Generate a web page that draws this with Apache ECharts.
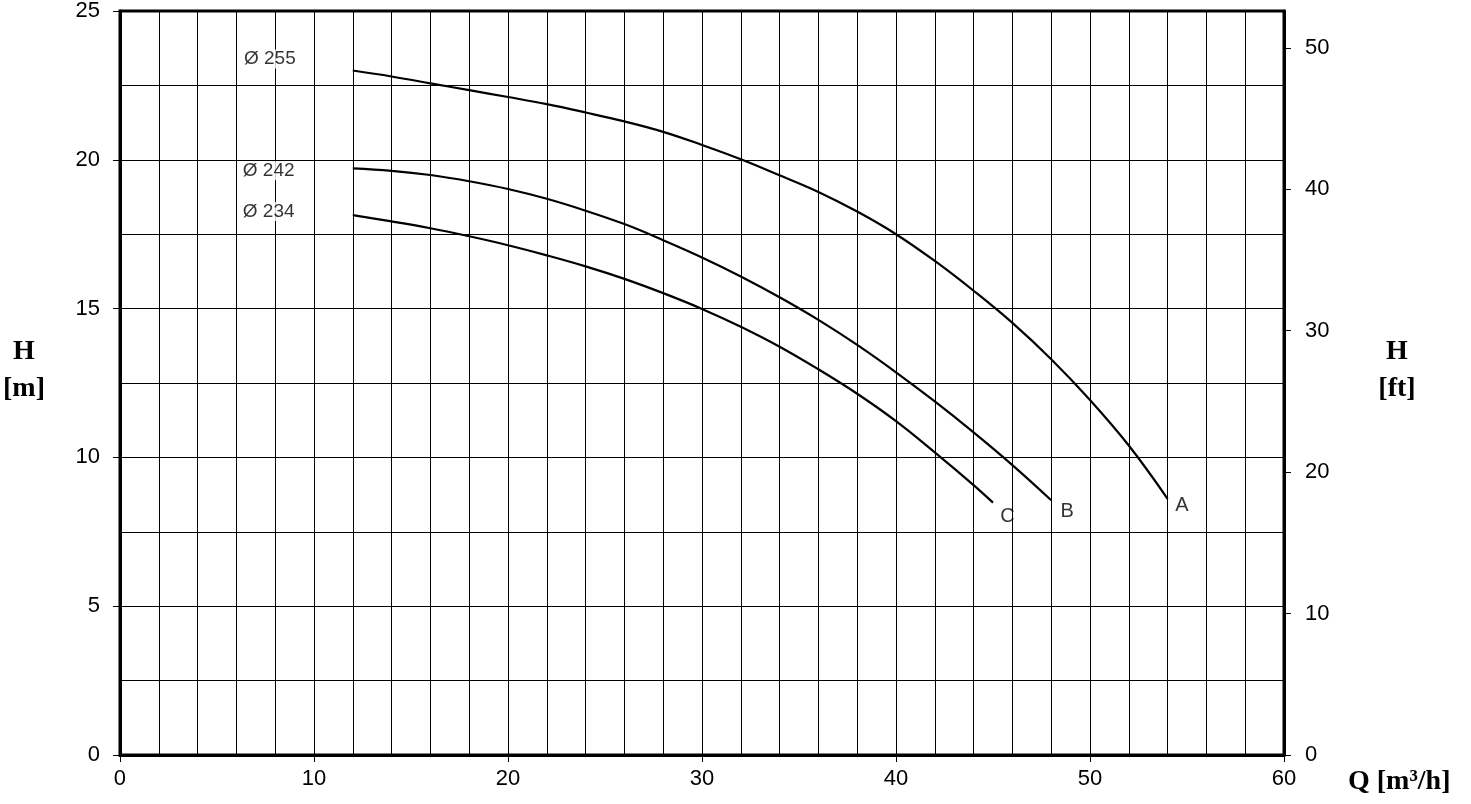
<!DOCTYPE html>
<html>
<head>
<meta charset="utf-8">
<script src="https://cdn.jsdelivr.net/npm/echarts@6/dist/echarts.min.js"></script>
<style>
  html, body { margin: 0; padding: 0; background: #fff; }
  #chart { width: 1471px; height: 804px; }
</style>
</head>
<body>
<div id="chart"></div>
<script>
// flow Q [m3/h]
var flowQ = [12, 14, 16, 18, 20, 22, 24, 26, 28, 30, 32, 34, 36, 38, 40, 42, 44, 46, 48, 50, 52, 54];
// head H [m]
var headA = [23.0, 22.8, 22.57, 22.34, 22.11, 21.87, 21.59, 21.29, 20.94, 20.5, 20.02, 19.48, 18.92, 18.26, 17.5, 16.6, 15.6, 14.52, 13.3, 11.93, 10.4, 8.61];
var headB = [19.71, 19.63, 19.49, 19.28, 19.02, 18.69, 18.29, 17.84, 17.3, 16.72, 16.08, 15.38, 14.62, 13.78, 12.86, 11.88, 10.84, 9.74, 8.56];
var flowC = [12, 14, 16, 18, 20, 22, 24, 26, 28, 30, 32, 34, 36, 38, 40, 42, 44, 45];
var headC = [18.14, 17.93, 17.7, 17.43, 17.13, 16.79, 16.42, 16.0, 15.52, 14.99, 14.39, 13.72, 12.96, 12.14, 11.22, 10.17, 9.07, 8.48];

// impeller diameter labels and curve end labels
var diaLabels = [[6.39, 23.39, 'Ø 255'], [6.33, 19.63, 'Ø 242'], [6.33, 18.26, 'Ø 234']];
var endLabels = [[54.39, 8.39, 'A'], [48.48, 8.19, 'B'], [45.38, 8.03, 'C']];

function pairs(xs, ys) {
  var out = [];
  for (var i = 0; i < ys.length; i++) out.push([xs[i], ys[i]]);
  return out;
}

var myChart = echarts.init(document.getElementById('chart'));

var tickFont = { color: '#000', fontSize: 22, fontFamily: 'Liberation Sans' };
var nameFont = { color: '#000', fontSize: 28, fontWeight: 'bold', fontFamily: 'Liberation Serif', lineHeight: 37 };
// extra empty line under the unit lifts the two-line name a little
var nameRich = { gap: { fontSize: 10, lineHeight: 25 } };

var curveStyle = { color: '#000', width: 2.2 };

var option = {
  animation: false,
  grid: {
    left: 119,
    right: 187,
    top: 10,
    bottom: 49,
    show: true,
    borderColor: '#000',
    borderWidth: 3
  },
  xAxis: {
    type: 'value',
    min: 0,
    max: 60,
    interval: 10,
    name: 'Q [m³/h]',
    nameLocation: 'end',
    nameGap: 64,
    nameTextStyle: Object.assign({}, nameFont, { align: 'left', verticalAlign: 'top', padding: [8, 0, 0, 0] }),
    axisLine: { lineStyle: { color: '#000', width: 3 } },
    axisTick: { show: true, length: 7, lineStyle: { color: '#000', width: 1 } },
    axisLabel: Object.assign({}, tickFont, { margin: 13 }),
    splitLine: { show: true, lineStyle: { color: '#000', width: 1 } },
    minorTick: { show: false, splitNumber: 5 },
    minorSplitLine: { show: true, lineStyle: { color: '#000', width: 1 } }
  },
  yAxis: [
    {
      type: 'value',
      min: 0,
      max: 25,
      interval: 5,
      name: 'H\n[m]\n{gap| }',
      nameLocation: 'middle',
      nameRotate: 0,
      nameGap: 96,
      nameTextStyle: Object.assign({}, nameFont, { align: 'center', verticalAlign: 'middle', rich: nameRich }),
      axisLine: { show: true, lineStyle: { color: '#000', width: 3 } },
      axisTick: { show: true, length: 7, lineStyle: { color: '#000', width: 1 } },
      axisLabel: Object.assign({}, tickFont, { margin: 20 }),
      splitLine: { show: true, lineStyle: { color: '#000', width: 1 } },
      minorTick: { show: false, splitNumber: 2 },
      minorSplitLine: { show: true, lineStyle: { color: '#000', width: 1 } }
    },
    {
      type: 'value',
      position: 'right',
      min: 0,
      max: 52.6,
      interval: 10,
      name: 'H\n[ft]\n{gap| }',
      nameLocation: 'middle',
      nameRotate: 0,
      nameGap: 113,
      nameTextStyle: Object.assign({}, nameFont, { align: 'center', verticalAlign: 'middle', rich: nameRich }),
      axisLine: { show: true, lineStyle: { color: '#000', width: 3 } },
      axisTick: { show: true, length: 7, lineStyle: { color: '#000', width: 1 } },
      axisLabel: Object.assign({}, tickFont, { margin: 21, showMaxLabel: false }),
      splitLine: { show: false }
    }
  ],
  series: [
    {
      name: 'A',
      type: 'line',
      smooth: 0.4,
      showSymbol: false,
      lineStyle: curveStyle,
      data: pairs(flowQ, headA),
      z: 5
    },
    {
      name: 'B',
      type: 'line',
      smooth: 0.4,
      showSymbol: false,
      lineStyle: curveStyle,
      data: pairs(flowQ, headB),
      z: 5
    },
    {
      name: 'C',
      type: 'line',
      smooth: 0.4,
      showSymbol: false,
      lineStyle: curveStyle,
      data: pairs(flowC, headC),
      z: 5
    },
    {
      type: 'scatter',
      symbolSize: 0,
      data: diaLabels,
      label: {
        show: true,
        position: [0, 0],
        align: 'left',
        verticalAlign: 'middle',
        formatter: function (p) { return p.value[2]; },
        color: '#000',
        fontSize: 19,
        fontFamily: 'Liberation Sans',
        backgroundColor: '#fff'
      },
      z: 6
    },
    {
      type: 'scatter',
      symbolSize: 0,
      data: endLabels,
      label: {
        show: true,
        position: [0, 0],
        align: 'left',
        verticalAlign: 'middle',
        formatter: function (p) { return p.value[2]; },
        color: '#000',
        fontSize: 20,
        fontFamily: 'Liberation Sans'
      },
      z: 6
    }
  ]
};

myChart.setOption(option);
</script>
</body>
</html>
